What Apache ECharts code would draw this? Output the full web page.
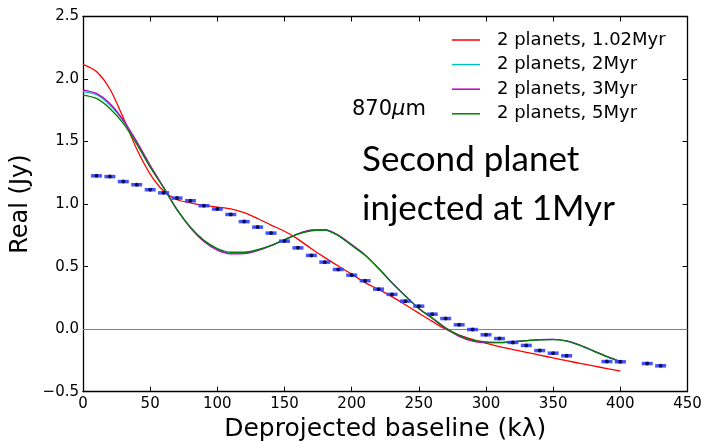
<!DOCTYPE html>
<html>
<head>
<meta charset="utf-8">
<script src="https://cdn.jsdelivr.net/npm/echarts@6/dist/echarts.min.js"></script>
<style>
html, body { margin: 0; padding: 0; background: #fff; }
#chart { width: 701px; height: 441px; }
</style>
</head>
<body>
<div id="chart"></div>
<script>
// model curves, sampled every 10 klambda
var baseline = [0, 10, 20, 30, 40, 50, 60, 70, 80, 90, 100, 110, 120, 130, 140, 150, 160, 170, 180, 190, 200,
    210, 220, 230, 240, 250, 260, 270, 280, 290, 300, 310, 320, 330, 340, 350, 360, 370, 380, 390, 400];
var real102Myr = [2.118, 2.06, 1.92, 1.69, 1.44, 1.24, 1.105, 1.035, 1.01, 0.99, 0.976, 0.962, 0.932, 0.885, 0.832, 0.783, 0.72, 0.643, 0.572, 0.505, 0.44,
    0.372, 0.318, 0.26, 0.195, 0.128, 0.062, 0.0, -0.047, -0.082, -0.112, -0.14, -0.163, -0.185, -0.207, -0.23, -0.252, -0.273, -0.294, -0.315, -0.336];
var real2Myr = [1.90, 1.874, 1.792, 1.664, 1.495, 1.305, 1.132, 0.955, 0.812, 0.705, 0.638, 0.608, 0.609, 0.631, 0.668, 0.715, 0.762, 0.790, 0.793, 0.749, 0.673,
    0.592, 0.486, 0.371, 0.265, 0.165, 0.088, 0.007, -0.054, -0.092, -0.105, -0.107, -0.101, -0.092, -0.084, -0.082, -0.094, -0.129, -0.174, -0.219, -0.259];
var real3Myr = [1.912, 1.885, 1.805, 1.672, 1.50, 1.31, 1.135, 0.955, 0.81, 0.70, 0.632, 0.602, 0.604, 0.628, 0.667, 0.715, 0.763, 0.793, 0.796, 0.752, 0.676,
    0.594, 0.488, 0.372, 0.266, 0.165, 0.087, 0.005, -0.057, -0.095, -0.108, -0.108, -0.101, -0.092, -0.084, -0.082, -0.094, -0.128, -0.173, -0.218, -0.258];
var real5Myr = [1.872, 1.845, 1.765, 1.645, 1.48, 1.295, 1.13, 0.955, 0.815, 0.71, 0.645, 0.615, 0.615, 0.635, 0.67, 0.715, 0.76, 0.787, 0.792, 0.748, 0.67,
    0.59, 0.485, 0.37, 0.265, 0.165, 0.09, 0.01, -0.05, -0.088, -0.102, -0.105, -0.1, -0.092, -0.085, -0.083, -0.095, -0.13, -0.175, -0.22, -0.26];

// observed visibilities
var obsBaseline = [10, 20, 30, 40, 50, 60, 70, 80, 90, 100, 110, 120, 130, 140, 150, 160, 170, 180, 190, 200,
    210, 220, 230, 240, 250, 260, 270, 280, 290, 300, 310, 320, 330, 340, 350, 360, 390, 400, 420, 430];
var obsReal = [1.226, 1.22, 1.18, 1.155, 1.115, 1.09, 1.048, 1.027, 0.987, 0.96, 0.917, 0.86, 0.816, 0.768, 0.704, 0.65, 0.59, 0.536, 0.477, 0.432,
    0.387, 0.32, 0.278, 0.224, 0.184, 0.12, 0.085, 0.035, -0.003, -0.045, -0.075, -0.106, -0.13, -0.171, -0.192, -0.213, -0.259, -0.261, -0.275, -0.293];

var legendNames = ['2 planets, 1.02Myr', '2 planets, 2Myr', '2 planets, 3Myr', '2 planets, 5Myr'];
var lineColors = ['#ff0000', '#00bfbf', '#bf00bf', '#008000'];

function pairs(xs, ys) {
    var out = [];
    for (var i = 0; i < xs.length; i++) {
        out.push([xs[i], ys[i]]);
    }
    return out;
}

var FONT = 'DejaVu Sans';
var myChart = echarts.init(document.getElementById('chart'));

var axisBase = {
    axisLine: { show: true, onZero: false, lineStyle: { color: '#000', width: 1.3 } },
    axisTick: { show: true, inside: true, length: 5, lineStyle: { color: '#000', width: 1 } },
    splitLine: { show: false }
};

var modelSeries = [real102Myr, real2Myr, real3Myr, real5Myr].map(function (vals, i) {
    return {
        name: legendNames[i],
        type: 'line',
        data: pairs(baseline, vals),
        smooth: 0.3,
        symbol: 'none',
        z: 3 + i,
        lineStyle: { color: lineColors[i], width: 1.3 },
        itemStyle: { color: lineColors[i] }
    };
});

var option = {
    animation: false,
    backgroundColor: '#fff',
    grid: { left: 83, right: 13.5, top: 16.5, bottom: 49.3, outerBoundsMode: 'none', containLabel: false },
    legend: {
        data: legendNames.map(function (n) { return { name: n, icon: 'rect' }; }),
        orient: 'vertical',
        left: 447,
        top: 26,
        itemWidth: 28,
        itemHeight: 1.5,
        itemGap: 6.6,
        textStyle: { fontFamily: FONT, fontSize: 18, color: '#000', lineHeight: 18, padding: [0, 0, 0, 12] }
    },
    xAxis: [
        Object.assign({}, axisBase, {
            type: 'value', min: 0, max: 450, interval: 50,
            name: 'Deprojected baseline (kλ)',
            nameLocation: 'middle', nameGap: 16,
            nameTextStyle: { fontFamily: FONT, fontSize: 25, color: '#000' },
            axisLabel: { fontFamily: FONT, fontSize: 15, color: '#000', margin: 5 }
        }),
        Object.assign({}, axisBase, {
            type: 'value', min: 0, max: 450, interval: 50, position: 'top',
            axisLabel: { show: false }
        })
    ],
    yAxis: [
        Object.assign({}, axisBase, {
            type: 'value', min: -0.5, max: 2.5, interval: 0.5,
            name: 'Real (Jy)',
            nameLocation: 'middle', nameGap: 50, nameMoveOverlap: false,
            nameTextStyle: { fontFamily: FONT, fontSize: 24, color: '#000' },
            axisLabel: {
                fontFamily: FONT, fontSize: 15, color: '#000', margin: 4,
                formatter: function (v) { return (v < 0 ? '\u2212' : '') + Math.abs(v).toFixed(1); }
            }
        }),
        Object.assign({}, axisBase, {
            type: 'value', min: -0.5, max: 2.5, interval: 0.5, position: 'right',
            axisLabel: { show: false }
        })
    ],
    graphic: [
        {
            type: 'text', left: 352, top: 99, z: 10,
            style: {
                text: '{a|870}{b|\u03bc}{a|m}',
                rich: {
                    a: { fontFamily: FONT, fontSize: 21, fill: '#000' },
                    b: { fontFamily: FONT, fontSize: 21, fontStyle: 'italic', fill: '#000' }
                }
            }
        },
        {
            type: 'text', left: 362, top: 142, z: 10,
            style: { text: 'Second planet', font: '35px Lato', fill: '#000' }
        },
        {
            type: 'text', left: 362, top: 191, z: 10,
            style: { text: 'injected at 1Myr', font: '35px Lato', fill: '#000' }
        }
    ],
    series: [
        {
            name: 'zero',
            type: 'line',
            data: [],
            symbol: 'none',
            markLine: {
                silent: true,
                symbol: 'none',
                label: { show: false },
                lineStyle: { color: '#808080', width: 1.2, type: 'solid' },
                data: [{ yAxis: 0 }]
            }
        }
    ].concat(modelSeries).concat([
        {
            name: 'obsBar',
            type: 'scatter',
            data: pairs(obsBaseline, obsReal),
            symbol: 'rect',
            symbolSize: [11, 3.5],
            z: 10,
            itemStyle: { color: '#3040ff', opacity: 0.9 }
        },
        {
            name: 'obsDot',
            type: 'scatter',
            data: pairs(obsBaseline, obsReal),
            symbol: 'circle',
            symbolSize: 4,
            z: 11,
            itemStyle: { color: '#000033' }
        }
    ])
};

myChart.setOption(option);
</script>
</body>
</html>
